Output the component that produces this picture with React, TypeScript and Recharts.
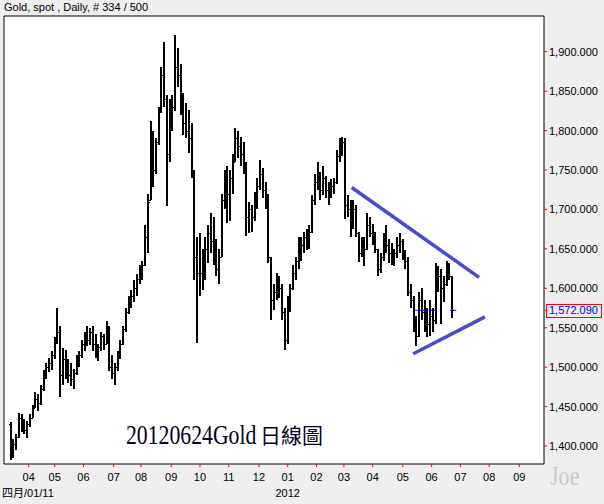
import React from 'react';
import {
  ComposedChart,
  Bar,
  XAxis,
  YAxis,
  ReferenceLine,
  ReferenceArea,
  CartesianGrid,
  Customized,
} from 'recharts';

// trading-day index of each (two-day) bar
const days = [
  5, 7, 9, 11, 13, 15, 17, 19, 21, 23, 25, 27, 29, 31, 33, 35, 37, 39, 41, 43,
  45, 47, 49, 51, 53, 55, 57, 59, 61, 63, 65, 67, 69, 71, 73, 75, 77, 79, 81, 83,
  85, 87, 89, 91, 93, 95, 97, 99, 101, 103, 105, 107, 109, 111, 113, 115, 117, 119, 121, 123,
  125, 127, 129, 131, 133, 135, 137, 139, 141, 143, 145, 147, 149, 151, 153, 155, 157, 159, 161, 163,
  165, 167, 169, 171, 173, 175, 177, 179, 181, 183, 185, 187, 189, 191, 193, 195, 197, 199, 201, 203,
  205, 207, 209, 211, 213, 215, 217, 219, 221, 223, 225, 227, 229, 231, 233, 235, 237, 239, 241, 243,
  245, 247, 249, 251, 253, 255, 257, 259, 261, 263, 265, 267, 269, 271, 273, 275, 277, 279, 281, 283,
  285, 287, 289, 291, 293, 295, 297, 299, 301, 303, 305, 307, 309, 311, 313, 315, 317, 319, 321, 323,
  325, 327,
];

const highs = [
  1431, 1409, 1415, 1442, 1440, 1434, 1432, 1440, 1452, 1468, 1466, 1478, 1497, 1505, 1512, 1520, 1538, 1575, 1552, 1524,
  1522, 1510, 1505, 1498, 1515, 1520, 1535, 1545, 1552, 1550, 1552, 1542, 1530, 1545, 1542, 1558, 1552, 1515, 1505, 1520,
  1535, 1552, 1575, 1590, 1598, 1610, 1618, 1630, 1635, 1680, 1720, 1812, 1800, 1790, 1830, 1880, 1912, 1845, 1840, 1845,
  1921, 1905, 1885, 1848, 1835, 1826, 1810, 1750, 1665, 1670, 1650, 1665, 1680, 1695, 1690, 1662, 1650, 1720, 1750, 1755,
  1750, 1770, 1803, 1800, 1792, 1785, 1760, 1710, 1705, 1722, 1740, 1763, 1752, 1735, 1720, 1640, 1605, 1620, 1615, 1605,
  1575, 1590, 1605, 1630, 1640, 1665, 1665, 1672, 1675, 1680, 1718, 1745, 1760, 1748, 1755, 1742, 1735, 1738, 1740, 1775,
  1790, 1792, 1790, 1718, 1712, 1712, 1705, 1672, 1665, 1665, 1695, 1690, 1682, 1672, 1650, 1645, 1670, 1680, 1662, 1658,
  1650, 1665, 1670, 1662, 1648, 1640, 1605, 1590, 1565, 1595, 1600, 1585, 1575, 1585, 1575, 1632, 1628, 1625, 1615, 1634,
  1632, 1615,
];

const lows = [
  1382, 1385, 1395, 1410, 1418, 1415, 1410, 1424, 1436, 1448, 1444, 1452, 1470, 1485, 1494, 1496, 1510, 1530, 1462, 1478,
  1485, 1480, 1476, 1472, 1490, 1500, 1512, 1520, 1527, 1528, 1520, 1512, 1508, 1520, 1522, 1530, 1495, 1485, 1477, 1495,
  1510, 1528, 1545, 1568, 1575, 1582, 1590, 1605, 1610, 1628, 1645, 1712, 1728, 1745, 1782, 1822, 1830, 1704, 1760, 1800,
  1825, 1855, 1820, 1795, 1790, 1772, 1740, 1610, 1531, 1590, 1598, 1610, 1632, 1645, 1630, 1615, 1605, 1640, 1700, 1683,
  1685, 1720, 1760, 1765, 1755, 1745, 1666, 1670, 1672, 1685, 1700, 1725, 1715, 1700, 1632, 1560, 1572, 1585, 1588, 1560,
  1522, 1530, 1570, 1598, 1610, 1625, 1635, 1645, 1648, 1650, 1670, 1705, 1725, 1712, 1718, 1715, 1705, 1715, 1720, 1732,
  1760, 1768, 1688, 1690, 1665, 1675, 1665, 1633, 1640, 1628, 1648, 1665, 1655, 1645, 1615, 1620, 1635, 1645, 1632, 1630,
  1628, 1638, 1645, 1636, 1625, 1590, 1575, 1545, 1527, 1538, 1560, 1545, 1538, 1540, 1545, 1555, 1595, 1555, 1582, 1603,
  1610, 1562,
];

const opens = [
  1428, 1390, 1403, 1412, 1435, 1425, 1420, 1428, 1436, 1448, 1460, 1455, 1472, 1490, 1500, 1505, 1515, 1535, 1545, 1490,
  1510, 1495, 1490, 1485, 1492, 1510, 1515, 1530, 1540, 1535, 1545, 1530, 1518, 1525, 1540, 1530, 1550, 1500, 1492, 1500,
  1515, 1530, 1548, 1570, 1585, 1590, 1600, 1612, 1625, 1630, 1665, 1712, 1790, 1750, 1785, 1825, 1870, 1840, 1770, 1825,
  1830, 1880, 1870, 1830, 1810, 1800, 1790, 1745, 1640, 1620, 1620, 1640, 1650, 1670, 1660, 1650, 1625, 1640, 1712, 1740,
  1720, 1740, 1760, 1790, 1780, 1770, 1760, 1690, 1700, 1690, 1715, 1730, 1745, 1725, 1715, 1640, 1585, 1595, 1605, 1600,
  1570, 1535, 1580, 1600, 1620, 1635, 1650, 1655, 1665, 1662, 1672, 1712, 1735, 1745, 1725, 1740, 1725, 1720, 1730, 1735,
  1768, 1780, 1785, 1705, 1700, 1680, 1700, 1670, 1645, 1655, 1650, 1680, 1670, 1660, 1650, 1625, 1640, 1660, 1655, 1645,
  1640, 1645, 1655, 1660, 1645, 1635, 1595, 1585, 1555, 1540, 1585, 1570, 1560, 1555, 1565, 1560, 1620, 1615, 1600, 1605,
  1625, 1615,
];

const closes = [
  1390, 1403, 1412, 1435, 1425, 1420, 1428, 1436, 1448, 1460, 1455, 1472, 1490, 1500, 1505, 1515, 1535, 1545, 1490, 1510,
  1495, 1490, 1485, 1492, 1510, 1515, 1530, 1540, 1535, 1545, 1530, 1518, 1525, 1540, 1530, 1550, 1500, 1492, 1500, 1515,
  1530, 1548, 1570, 1585, 1590, 1600, 1612, 1625, 1630, 1665, 1710, 1790, 1750, 1785, 1825, 1870, 1840, 1770, 1825, 1830,
  1880, 1870, 1830, 1810, 1800, 1790, 1745, 1640, 1620, 1620, 1640, 1650, 1670, 1660, 1650, 1625, 1640, 1712, 1740, 1720,
  1740, 1760, 1790, 1780, 1770, 1760, 1690, 1700, 1690, 1715, 1730, 1745, 1725, 1715, 1640, 1585, 1595, 1605, 1600, 1570,
  1535, 1580, 1600, 1620, 1635, 1650, 1655, 1665, 1662, 1672, 1712, 1735, 1745, 1725, 1740, 1725, 1720, 1730, 1735, 1768,
  1780, 1785, 1705, 1700, 1680, 1700, 1670, 1645, 1655, 1650, 1680, 1670, 1660, 1650, 1625, 1640, 1660, 1655, 1645, 1640,
  1645, 1655, 1660, 1645, 1635, 1595, 1585, 1555, 1540, 1585, 1570, 1560, 1555, 1565, 1560, 1620, 1615, 1600, 1605, 1625,
  1615, 1572,
];

const monthTickDays = [18, 37, 58, 80, 100, 122, 143, 164, 186, 207, 228, 248, 269, 291, 312, 333, 354, 376];
const monthTickLabels = ['04', '05', '06', '07', '08', '09', '10', '11', '12', '01', '02', '03', '04', '05', '06', '07', '08', '09'];
const yearLabel = '2012';
const startLabel = '四月/01/11';
const priceTicks = [1400, 1450, 1500, 1550, 1600, 1650, 1700, 1750, 1800, 1850, 1900];
const lastPrice = 1572.09;
const upperTrend = [
  { x: 253.7, y: 1727.8 },
  { x: 346.6, y: 1613.9 },
];
const lowerTrend = [
  { x: 298.6, y: 1517 },
  { x: 350.9, y: 1563.8 },
];
const lastPriceMarks = [
  [298.5, 302],
  [303.5, 308.5],
  [310, 315],
  [325.5, 330],
];
const titleText = 'Gold, spot , Daily, # 334 / 500';
const noteLatin = '20120624Gold';
const noteCJK = '日線圖';
const signature = 'Joe';

const X_DOMAIN: [number, number] = [0, 394];
const Y_DOMAIN: [number, number] = [1377.2, 1945.3];

const data = days.map((d, i) => ({
  day: d,
  range: [lows[i], highs[i]],
  open: opens[i],
  close: closes[i],
}));

const SANS = "'Liberation Sans', Arial, 'Noto Sans CJK TC', sans-serif";
const SERIF = "'Liberation Serif', 'Times New Roman', serif";

const OHLC = (props: any) => {
  const { x, y, width, height, payload } = props;
  if (x == null || y == null || !payload) return null;
  const lo = payload.range[0];
  const hi = payload.range[1];
  const top = Math.min(y, y + height);
  const h = Math.abs(height);
  const cx = Math.round(x + width / 2);
  const k = hi === lo ? 0 : h / (hi - lo);
  const yo = Math.round(top + (hi - payload.open) * k) + 0.5;
  const yc = Math.round(top + (hi - payload.close) * k) + 0.5;
  return (
    <g stroke="#000" shapeRendering="crispEdges">
      <line x1={cx} x2={cx} y1={top} y2={top + h} strokeWidth={2} />
      <line x1={cx - 2} x2={cx} y1={yo} y2={yo} strokeWidth={1} />
      <line x1={cx} x2={cx + 2} y1={yc} y2={yc} strokeWidth={1} />
    </g>
  );
};

const MonthTick = (props: any) => {
  const { x, y, payload } = props;
  const i = monthTickDays.indexOf(payload.value);
  const label = monthTickLabels[i];
  return (
    <g>
      <text x={x} y={y} dy={12} textAnchor="middle" fontSize={11} fontFamily={SANS} fill="#000">
        {label}
      </text>
      {label === '01' && (
        <text x={x} y={y} dy={28} textAnchor="middle" fontSize={11} fontFamily={SANS} fill="#000">
          {yearLabel}
        </text>
      )}
    </g>
  );
};

const fmt = (v: number) =>
  v.toLocaleString('en-US', { minimumFractionDigits: 3, maximumFractionDigits: 3 });

const PriceTick = (props: any) => {
  const { x, y, payload } = props;
  const v = payload.value;
  if (Math.abs(v - lastPrice) < 0.001) {
    return (
      <g>
        <rect x={x - 2.5} y={y - 6} width={55} height={13} fill="none" stroke="#ff0000" shapeRendering="crispEdges" />
        <text x={x} y={y} dy={4} fontSize={11} fontFamily={SANS} fill="#0000ff">
          {fmt(v)}
        </text>
      </g>
    );
  }
  return (
    <text x={x} y={y} dy={4} fontSize={11} fontFamily={SANS} fill="#000">
      {fmt(v)}
    </text>
  );
};

const Decorations = () => (
  <g>
    <text x={4} y={11} fontSize={11} fontFamily={SANS} fill="#000">
      {titleText}
    </text>
    <text x={2} y={497} fontSize={11} fontFamily={SANS} fill="#000">
      {startLabel}
    </text>
    <g transform="translate(126 443.5) scale(0.805 1)">
      <text x={0} y={0} fontSize={27} fontFamily={SERIF} fill="#00001a">
        {noteLatin}
      </text>
    </g>
    <text
      x={260}
      y={443}
      fontSize={21}
      fontFamily="'Noto Sans CJK TC', 'Noto Sans CJK SC', sans-serif"
      fill="#00001a"
    >
      {noteCJK}
    </text>
    <g transform="translate(550 485) scale(0.82 1)">
      <text x={0} y={0} fontSize={27} fontFamily={SERIF} fill="#c8c8c8">
        {signature}
      </text>
    </g>
  </g>
);

export default function App() {
  return (
    <div style={{ position: 'absolute', left: 0, top: 0, width: 604, height: 504, background: '#eeeeee' }}>
      <ComposedChart width={604} height={504} data={data} margin={{ top: 16, right: 0, bottom: 0, left: 4 }}>
        <CartesianGrid horizontal={false} vertical={false} fill="#ffffff" />
        <XAxis
          type="number"
          dataKey="day"
          domain={X_DOMAIN}
          ticks={monthTickDays}
          interval={0}
          height={40}
          axisLine={false}
          tickLine={{ stroke: '#ff0000' }}
          tickSize={3}
          tickMargin={2}
          tick={<MonthTick />}
          allowDataOverflow
        />
        <YAxis
          orientation="right"
          type="number"
          domain={Y_DOMAIN}
          ticks={[...priceTicks, lastPrice]}
          interval={0}
          width={60}
          axisLine={false}
          tickLine={{ stroke: '#ff0000' }}
          tickSize={3}
          tickMargin={2}
          tick={<PriceTick />}
          allowDataOverflow
        />
        <ReferenceArea
          x1={X_DOMAIN[0]}
          x2={X_DOMAIN[1]}
          y1={Y_DOMAIN[0]}
          y2={Y_DOMAIN[1]}
          fill="none"
          fillOpacity={0}
          stroke="#000"
          strokeWidth={1}
          ifOverflow="visible"
        />
        <Bar dataKey="range" barSize={3} shape={<OHLC />} isAnimationActive={false} />
        {lastPriceMarks.map((m, i) => (
          <ReferenceLine
            key={'m' + i}
            segment={[
              { x: m[0], y: lastPrice },
              { x: m[1], y: lastPrice },
            ]}
            stroke="#0000ff"
            strokeWidth={1}
            ifOverflow="visible"
          />
        ))}
        <ReferenceLine segment={upperTrend} stroke="#4a4ad0" strokeWidth={3.5} ifOverflow="visible" />
        <ReferenceLine segment={lowerTrend} stroke="#4a4ad0" strokeWidth={3.5} ifOverflow="visible" />
        <Customized component={Decorations} />
      </ComposedChart>
    </div>
  );
}
